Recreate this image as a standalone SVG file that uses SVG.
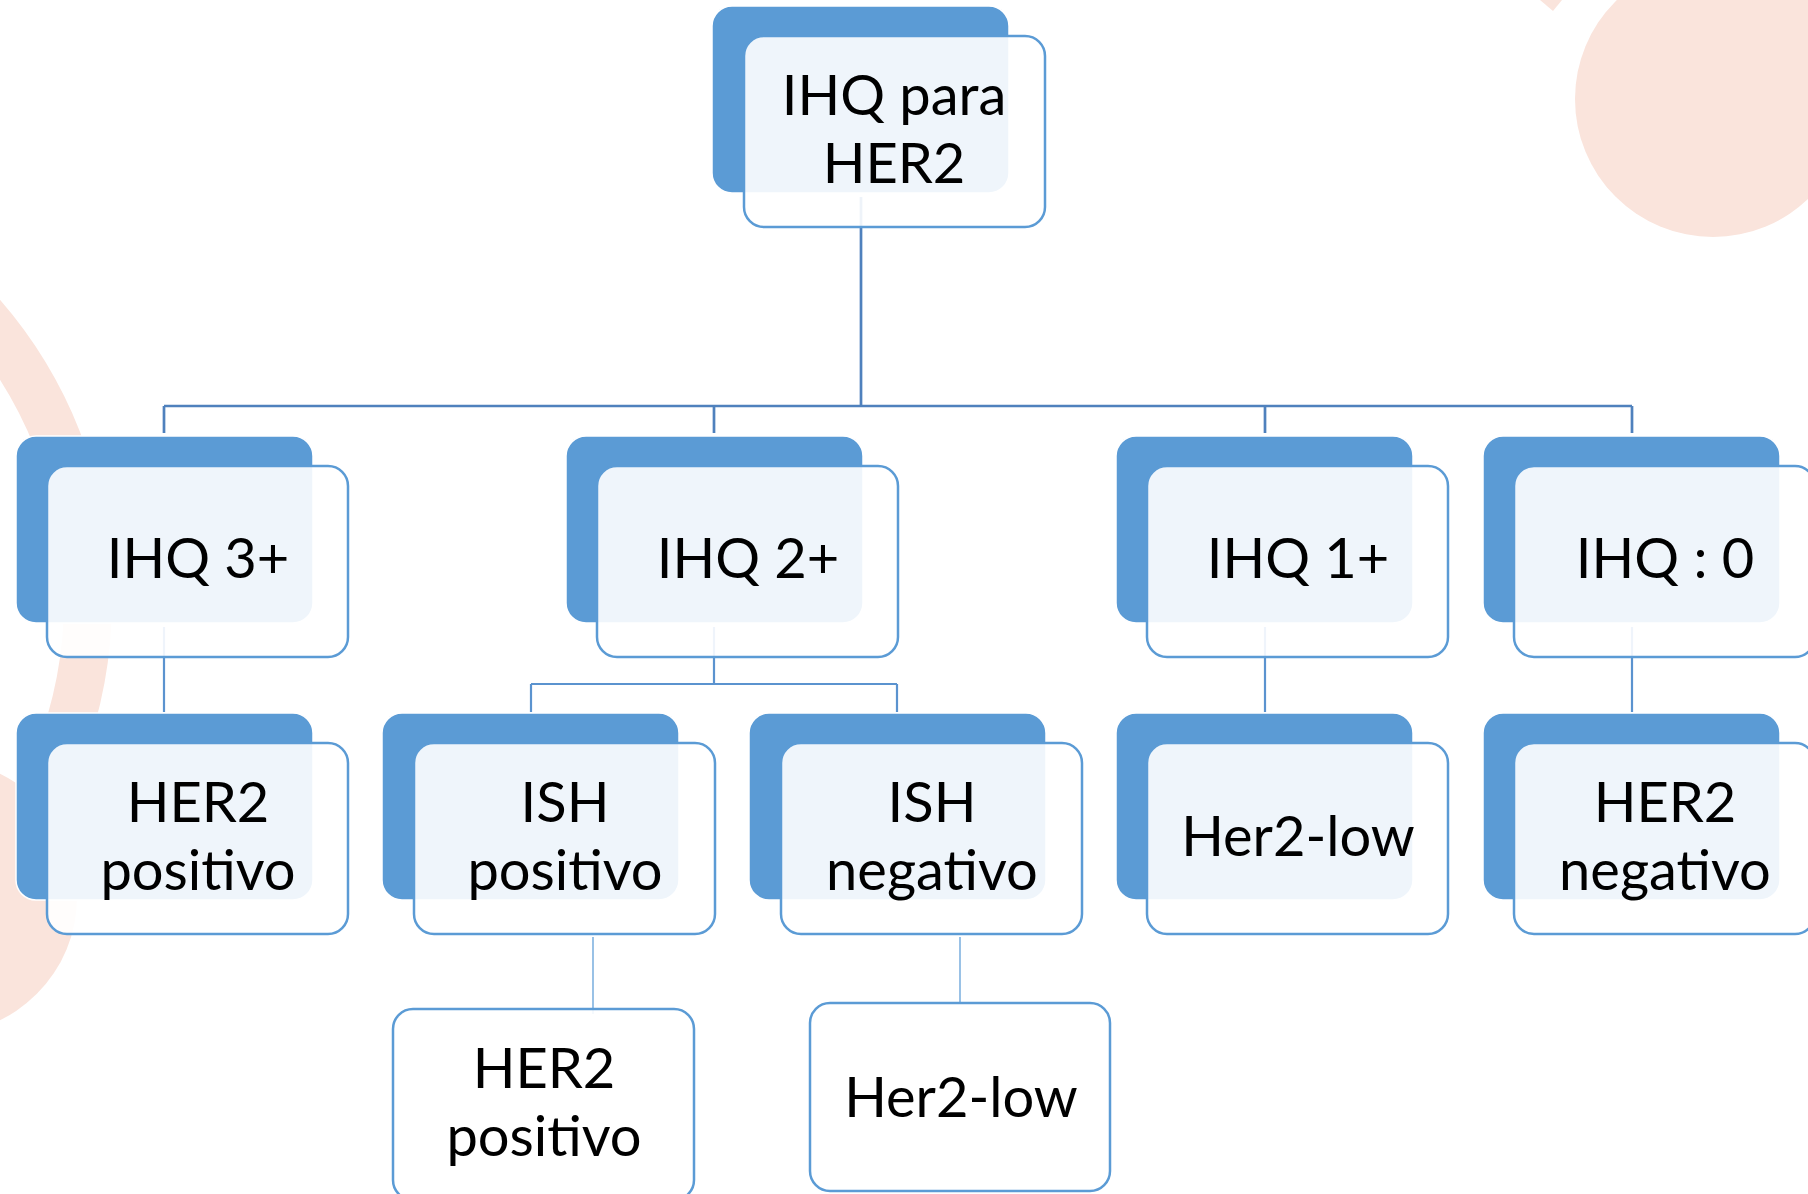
<svg xmlns="http://www.w3.org/2000/svg" width="1808" height="1194" viewBox="0 0 1808 1194">
  <style>
    .deco { fill: #FAE4DC; }
    .back { fill: #5B9BD5; stroke: #FFFFFF; stroke-width: 1.5; }
    .front { fill: #FFFFFF; fill-opacity: 0.9; stroke: #5B9BD5; stroke-width: 2.5; }
    .plain { fill: #FFFFFF; fill-opacity: 0.9; stroke: #5B9BD5; stroke-width: 2.5; }
    .lbl { font-family: Lato, "Liberation Sans", sans-serif; font-size: 56px; fill: #000000; text-anchor: middle; }
    .bus { fill: none; stroke: #4F81BD; stroke-width: 2.7; }
    .sub { fill: none; stroke: #5B93CF; stroke-width: 2.2; }
    .leaf { fill: none; stroke: #6FA8DC; stroke-width: 1.4; }
  </style>

  <rect width="1808" height="1194" fill="#FFFFFF"/>

  <!-- soft decorative shapes in the background -->
  <g id="background">
    <circle cx="-346" cy="600" r="434" fill="none" stroke="#FAE4DC" stroke-width="48"/>
    <circle class="deco" cx="-60" cy="897" r="137"/>
    <circle class="deco" cx="1713" cy="99" r="138"/>
    <polygon class="deco" points="1540,0 1553,11 1562,0"/>
  </g>

  <!-- connectors -->
  <g id="connectors">
    <path class="bus" d="M861 197 V406 M164 406 H1632 M164 406 V433 M714 406 V433 M1265 406 V433 M1632 406 V433"/>
    <path class="sub" d="M164 627 V712 M1265 627 V712 M1632 627 V712"/>
    <path class="sub" d="M714 627 V684 M531 684 H897 M531 684 V712 M897 684 V712"/>
    <path class="leaf" d="M593 937 V1014 M960 937 V1004"/>
  </g>

  <!-- root -->
  <g id="node-root">
    <rect class="back" x="712" y="6" width="297" height="187" rx="20"/>
    <rect class="front" x="744" y="36" width="301" height="191" rx="20"/>
    <text class="lbl" x="894" y="115">IHQ para</text>
    <text class="lbl" x="894" y="183">HER2</text>
  </g>

  <!-- second level -->
  <g id="node-ihq3">
    <rect class="back" x="16" y="436" width="297" height="187" rx="20"/>
    <rect class="front" x="47" y="466" width="301" height="191" rx="20"/>
    <text class="lbl" x="198" y="578">IHQ 3+</text>
  </g>
  <g id="node-ihq2">
    <rect class="back" x="566" y="436" width="297" height="187" rx="20"/>
    <rect class="front" x="597" y="466" width="301" height="191" rx="20"/>
    <text class="lbl" x="748" y="578">IHQ 2+</text>
  </g>
  <g id="node-ihq1">
    <rect class="back" x="1116" y="436" width="297" height="187" rx="20"/>
    <rect class="front" x="1147" y="466" width="301" height="191" rx="20"/>
    <text class="lbl" x="1298" y="578">IHQ 1+</text>
  </g>
  <g id="node-ihq0">
    <rect class="back" x="1483" y="436" width="297" height="187" rx="20"/>
    <rect class="front" x="1514" y="466" width="301" height="191" rx="20"/>
    <text class="lbl" x="1665" y="578">IHQ : 0</text>
  </g>

  <!-- third level -->
  <g id="node-her2-pos">
    <rect class="back" x="16" y="713" width="297" height="187" rx="20"/>
    <rect class="front" x="47" y="743" width="301" height="191" rx="20"/>
    <text class="lbl" x="198" y="822">HER2</text>
    <text class="lbl" x="198" y="890">positivo</text>
  </g>
  <g id="node-ish-pos">
    <rect class="back" x="382" y="713" width="297" height="187" rx="20"/>
    <rect class="front" x="414" y="743" width="301" height="191" rx="20"/>
    <text class="lbl" x="565" y="822">ISH</text>
    <text class="lbl" x="565" y="890">positivo</text>
  </g>
  <g id="node-ish-neg">
    <rect class="back" x="749" y="713" width="297" height="187" rx="20"/>
    <rect class="front" x="781" y="743" width="301" height="191" rx="20"/>
    <text class="lbl" x="932" y="822">ISH</text>
    <text class="lbl" x="932" y="890">negativo</text>
  </g>
  <g id="node-her2-low">
    <rect class="back" x="1116" y="713" width="297" height="187" rx="20"/>
    <rect class="front" x="1147" y="743" width="301" height="191" rx="20"/>
    <text class="lbl" x="1298" y="856">Her2-low</text>
  </g>
  <g id="node-her2-neg">
    <rect class="back" x="1483" y="713" width="297" height="187" rx="20"/>
    <rect class="front" x="1514" y="743" width="301" height="191" rx="20"/>
    <text class="lbl" x="1665" y="822">HER2</text>
    <text class="lbl" x="1665" y="890">negativo</text>
  </g>

  <!-- fourth level -->
  <g id="node-ish-her2-pos">
    <rect class="plain" x="393" y="1009" width="301" height="191" rx="20"/>
    <text class="lbl" x="544" y="1088">HER2</text>
    <text class="lbl" x="544" y="1156">positivo</text>
  </g>
  <g id="node-ish-her2-low">
    <rect class="plain" x="810" y="1003" width="300" height="188" rx="20"/>
    <text class="lbl" x="961" y="1117">Her2-low</text>
  </g>
</svg>
